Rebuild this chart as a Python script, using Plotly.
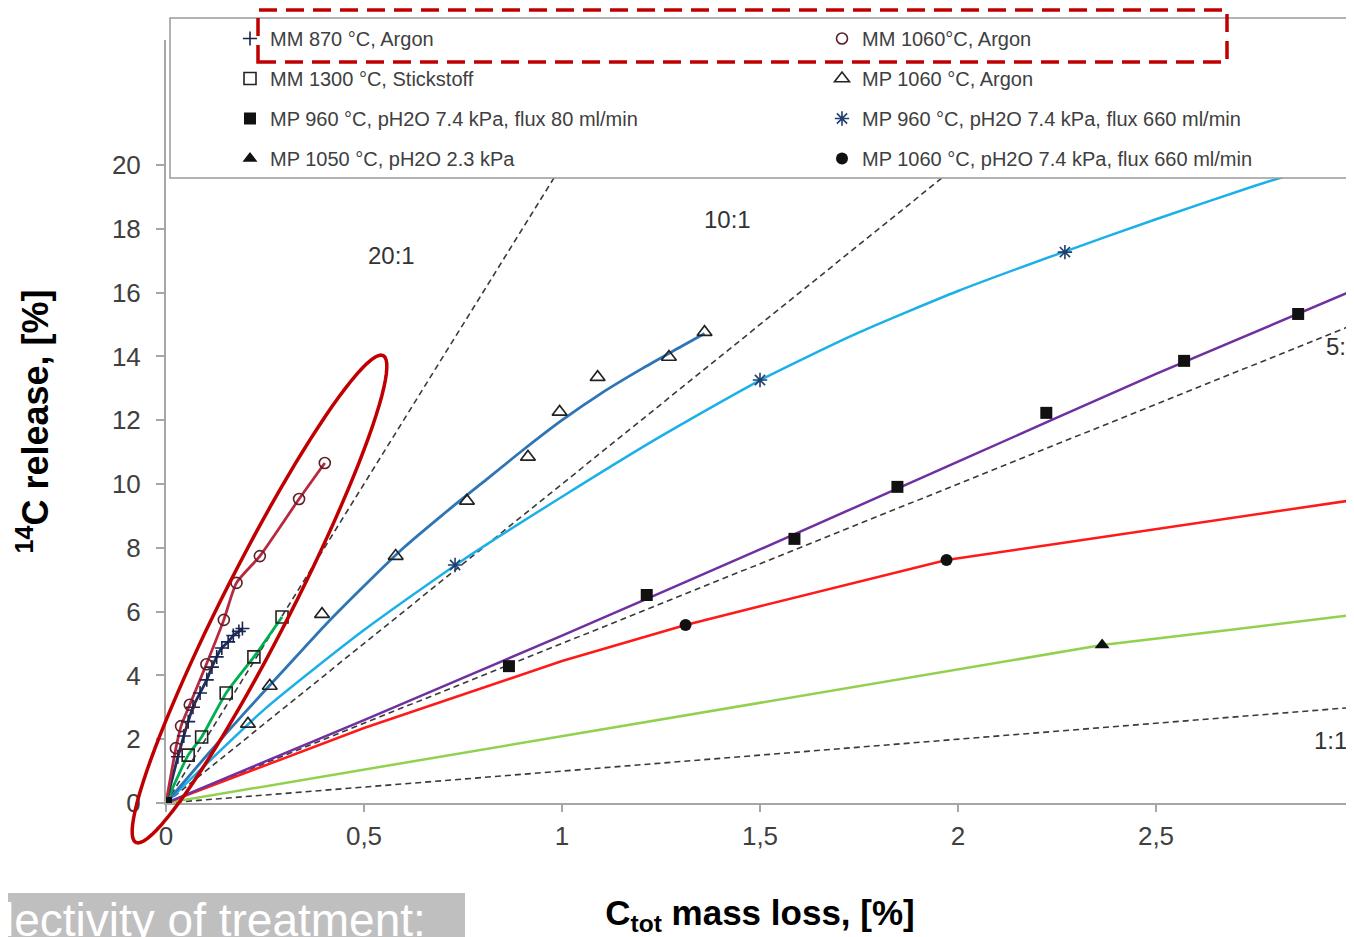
import numpy as np
import plotly.graph_objects as go

# ---------------- data ----------------
# MM 870 °C, Argon  (+ markers, dark navy line)
mm870_x = [0.03, 0.045, 0.056, 0.068, 0.086, 0.103, 0.116, 0.128, 0.141, 0.157, 0.17, 0.184, 0.193]
mm870_y = [1.45, 2.1, 2.55, 3.0, 3.45, 3.86, 4.26, 4.58, 4.86, 5.05, 5.25, 5.38, 5.47]

# MM 1060°C, Argon (open circles, crimson line)
mm1060_x = [0.025, 0.038, 0.06, 0.102, 0.146, 0.178, 0.237, 0.336, 0.401]
mm1060_y = [1.72, 2.41, 3.08, 4.35, 5.74, 6.9, 7.74, 9.53, 10.66]

# MM 1300 °C, Stickstoff (open squares, green line)
mm1300_x = [0.056, 0.09, 0.152, 0.222, 0.293]
mm1300_y = [1.5, 2.07, 3.45, 4.58, 5.83]

# MP 1060 °C, Argon (open triangles, blue fit)
mp1060ar_x = [0.207, 0.262, 0.394, 0.58, 0.76, 0.914, 0.994, 1.09, 1.27, 1.36]
mp1060ar_y = [2.48, 3.67, 5.92, 7.74, 9.47, 10.85, 12.26, 13.35, 13.98, 14.76]
mp1060ar_fit_x = [0, 0.1, 0.2, 0.3, 0.4, 0.5, 0.6, 0.7, 0.8, 0.9, 1.0, 1.1, 1.2, 1.3, 1.36]
mp1060ar_fit_y = [0, 1.45, 2.85, 4.2, 5.55, 6.8, 8.0, 9.05, 10.05, 11.05, 12.0, 12.85, 13.6, 14.3, 14.72]

# MP 960 °C, pH2O 7.4 kPa, flux 660 ml/min (asterisk markers, cyan fit)
mp960f660_x = [0.73, 1.50, 2.27]
mp960f660_y = [7.46, 13.26, 17.27]
mp960f660_fit_x = [0, 0.25, 0.5, 0.75, 1.0, 1.25, 1.5, 1.75, 2.0, 2.25, 2.5, 2.75, 3.0]
mp960f660_fit_y = [0, 2.95, 5.42, 7.62, 9.6, 11.5, 13.25, 14.75, 16.05, 17.2, 18.3, 19.35, 20.3]

# MP 960 °C, pH2O 7.4 kPa, flux 80 ml/min (filled squares, purple fit)
mp960f80_x = [0, 0.866, 1.214, 1.587, 1.847, 2.223, 2.571, 2.859]
mp960f80_y = [0, 4.29, 6.52, 8.28, 9.91, 12.23, 13.86, 15.33]
mp960f80_fit_x = [0, 0.5, 1.0, 1.5, 2.0, 2.5, 3.0]
mp960f80_fit_y = [0, 2.6, 5.25, 7.95, 10.7, 13.45, 16.08]

# MP 1050 °C, pH2O 2.3 kPa (filled triangle, light green fit)
mp1050_x = [2.364]
mp1050_y = [4.95]
mp1050_fit_x = [0, 0.5, 1.0, 1.5, 2.0, 2.364, 2.7, 3.0]
mp1050_fit_y = [0, 1.05, 2.1, 3.15, 4.2, 4.95, 5.45, 5.9]

# MP 1060 °C, pH2O 7.4 kPa, flux 660 ml/min (filled circles, red fit)
mp1060f660_x = [1.312, 1.971]
mp1060f660_y = [5.58, 7.62]
mp1060f660_fit_x = [0, 0.5, 1.0, 1.312, 1.5, 1.75, 1.971, 2.25, 2.5, 2.75, 3.0]
mp1060f660_fit_y = [0, 2.35, 4.45, 5.58, 6.17, 6.95, 7.62, 8.13, 8.59, 9.05, 9.5]

# selectivity reference ratios (dashed lines)
ratios = [1, 5, 10, 20]
ratio_labels = ["1:1", "5:1", "10:1", "20:1"]
ratio_label_x = [2.94, 2.925, 1.418, 0.57]
ratio_label_y = [1.97, 14.3, 18.28, 17.15]
ratio_label_anchor = ["center", "left", "center", "center"]

x_ticks = [0, 0.5, 1, 1.5, 2, 2.5, 3]
y_ticks = [0, 2, 4, 6, 8, 10, 12, 14, 16, 18, 20]

# ---------------- layout geometry ----------------
# page is rendered with an 8px body margin -> figure is 8px smaller each way
W, H = 1346, 929
L, R, T, B = 158, 0, 32, 134
PW, PH = W - L - R, H - T - B
XMAX = 3.0
YMAX = PH / 31.9


def px2x(px):  # page pixel -> paper x
    return (px - 8 - L) / PW


def py2y(py):  # page pixel -> paper y
    return (H - B - (py - 8)) / PH


FONT = "Liberation Sans, Arial, sans-serif"
TXT = "#404040"

fig = go.Figure()

# dashed ratio lines
for r in ratios:
    fig.add_trace(go.Scatter(x=[0, XMAX], y=[0, XMAX * r], mode="lines",
                             line=dict(color="#3a3a3a", width=1.6, dash="6px,4px"),
                             showlegend=False, hoverinfo="skip"))

# fit / connecting lines
lines = [
    (mp1050_fit_x, mp1050_fit_y, "#92d050", 2.5, "linear"),
    (mp1060f660_fit_x, mp1060f660_fit_y, "#ff1a1a", 2.5, "linear"),
    (mp960f80_fit_x, mp960f80_fit_y, "#7030a0", 2.5, "spline"),
    (mp960f660_fit_x, mp960f660_fit_y, "#1cb0e8", 2.5, "spline"),
    (mp1060ar_fit_x, mp1060ar_fit_y, "#2e75b6", 2.8, "spline"),
    ([0] + mm1300_x, [0] + mm1300_y, "#00b050", 2.8, "spline"),
    ([0] + mm870_x, [0] + mm870_y, "#1f2f5f", 2.8, "spline"),
    ([0] + mm1060_x, [0] + mm1060_y, "#b8283f", 2.8, "spline"),
]
for lx, ly, c, w, shp in lines:
    fig.add_trace(go.Scatter(x=lx, y=ly, mode="lines",
                             line=dict(color=c, width=w, shape=shp,
                                       smoothing=0.6 if shp == "spline" else None),
                             showlegend=False, hoverinfo="skip"))

# markers (these carry the legend)
series = [
    ("MM 870 °C, Argon", mm870_x, mm870_y, "cross-thin", 10, "#1a2450", "legend"),
    ("MM 1300 °C, Stickstoff", mm1300_x, mm1300_y, "square-open", 12, "#222222", "legend"),
    ("MP 960 °C, pH2O 7.4 kPa, flux 80 ml/min", mp960f80_x, mp960f80_y, "square", 12, "#111111", "legend"),
    ("MP 1050 °C, pH2O 2.3 kPa", mp1050_x, mp1050_y, "triangle-up", 13, "#111111", "legend"),
    ("MM 1060°C, Argon", mm1060_x, mm1060_y, "circle-open", 11, "#5a2228", "legend2"),
    ("MP 1060 °C, Argon", mp1060ar_x, mp1060ar_y, "triangle-up-open", 13, "#222222", "legend2"),
    ("MP 960 °C, pH2O 7.4 kPa, flux 660 ml/min", mp960f660_x, mp960f660_y, "asterisk-open", 12, "#1f3f6f", "legend2"),
    ("MP 1060 °C, pH2O 7.4 kPa, flux 660 ml/min", mp1060f660_x, mp1060f660_y, "circle", 12, "#111111", "legend2"),
]
for name, sx, sy, sym, sz, col, lg in series:
    filled = not (sym.endswith("open") or sym.endswith("thin"))
    fig.add_trace(go.Scatter(
        x=sx, y=sy, mode="markers", name=name, legend=lg, legendgroup=name,
        marker=dict(symbol=sym, size=sz, color=col,
                    line=dict(color=col, width=0 if filled else 1.6)),
    ))

# ratio labels
for lab, lx, ly, anc in zip(ratio_labels, ratio_label_x, ratio_label_y, ratio_label_anchor):
    fig.add_annotation(x=lx, y=ly, text=lab, showarrow=False, xanchor=anc,
                       font=dict(size=24, color="#333333", family=FONT))

# ---------------- decorations ----------------
shapes = []
# legend box
shapes.append(dict(type="rect", xref="paper", yref="paper",
                   x0=px2x(170), x1=px2x(1362), y0=py2y(178), y1=py2y(18),
                   fillcolor="white", line=dict(color="#9a9a9a", width=1.5), layer="above"))
# red dashed highlight rectangle
shapes.append(dict(type="rect", xref="paper", yref="paper",
                   x0=px2x(258), x1=px2x(1227), y0=py2y(62), y1=py2y(10),
                   line=dict(color="#c00000", width=3.5, dash="18px,9px"), layer="above"))
# red ellipse around the MM series
cx, cy = 259.5, 599.0
a, b = 273.0, 34.0
ang = np.arctan2(-486.0, 247.0)
t = np.linspace(0, 2 * np.pi, 97)
ex = cx + a * np.cos(t) * np.cos(ang) - b * np.sin(t) * np.sin(ang)
ey = cy + a * np.cos(t) * np.sin(ang) + b * np.sin(t) * np.cos(ang)
path = "M " + " L ".join(f"{px2x(u):.5f},{py2y(v):.5f}" for u, v in zip(ex, ey)) + " Z"
shapes.append(dict(type="path", xref="paper", yref="paper", path=path,
                   line=dict(color="#c00000", width=3.5), layer="above"))
# grey slide box bottom-left
shapes.append(dict(type="rect", xref="paper", yref="paper",
                   x0=px2x(0), x1=px2x(465), y0=py2y(945), y1=py2y(893),
                   fillcolor="#bfbfbf", line=dict(width=0), layer="above"))

fig.add_annotation(xref="paper", yref="paper", x=px2x(2), y=py2y(920),
                   xanchor="left", yanchor="middle", showarrow=False,
                   text="lectivity of treatment:",
                   font=dict(size=46, color="white", family=FONT))

fig.update_layout(
    width=W, height=H, autosize=False,
    margin=dict(l=L, r=R, t=T, b=B),
    paper_bgcolor="white", plot_bgcolor="white",
    separators=", ",
    font=dict(family=FONT, color=TXT),
    shapes=shapes,
    showlegend=True,
    legend=dict(x=px2x(230), y=py2y(19), xanchor="left", yanchor="top",
                orientation="v", bgcolor="rgba(0,0,0,0)", borderwidth=0,
                font=dict(size=20, color=TXT, family=FONT),
                tracegroupgap=11, itemclick=False),
    legend2=dict(x=px2x(822), y=py2y(19), xanchor="left", yanchor="top",
                 orientation="v", bgcolor="rgba(0,0,0,0)", borderwidth=0,
                 font=dict(size=20, color=TXT, family=FONT),
                 tracegroupgap=11, itemclick=False),
    xaxis=dict(range=[0, XMAX], tickvals=x_ticks, showgrid=False, zeroline=False,
               showline=True, linecolor="#a6a6a6", linewidth=2,
               ticks="outside", ticklen=7, tickcolor="#a6a6a6", tickwidth=1.5,
               ticklabelstandoff=2, ticklabeloverflow="allow",
               tickfont=dict(size=26, color=TXT, family=FONT),
               automargin=False,
               title=dict(text="C<sub>tot</sub> mass loss, [%]", standoff=54,
                          font=dict(size=35, color="black", family=FONT, weight="bold"))),
    yaxis=dict(range=[0, YMAX], tickvals=y_ticks, showgrid=False, zeroline=False,
               showline=True, linecolor="#a6a6a6", linewidth=2,
               ticks="outside", ticklen=8, tickcolor="#a6a6a6", tickwidth=1.5,
               ticklabelstandoff=10,
               tickfont=dict(size=26, color=TXT, family=FONT),
               automargin=False,
               title=dict(text="<sup>14</sup>C release, [%]", standoff=52,
                          font=dict(size=36, color="black", family=FONT, weight="bold"))),
)

fig.write_html("out.html")
